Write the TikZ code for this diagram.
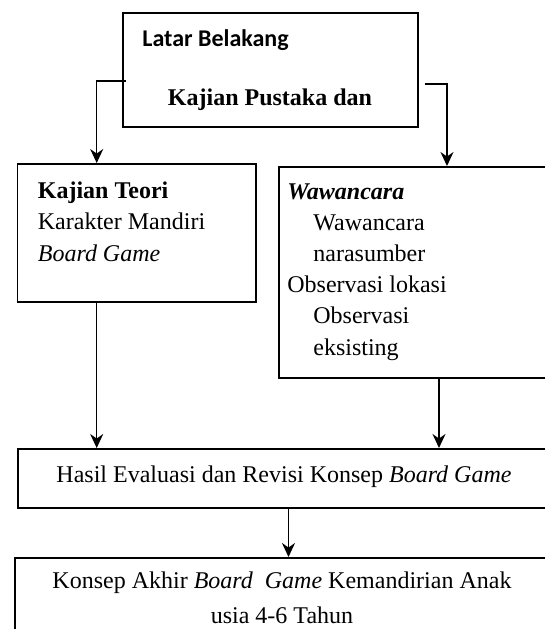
\documentclass[tikz,border=0pt]{standalone}
\usepackage{fontspec}
\setmainfont{Liberation Serif}
\newfontfamily\calfont{Carlito}
\usetikzlibrary{positioning,arrows.meta}
\tikzset{
  fb box/.style={draw, line width=0.8pt, inner sep=0pt, anchor=north west},
  fb txt/.style={font=\fontsize{12}{15.6}\selectfont, inner sep=0pt, align=left},
  fb arr/.style={-{Stealth[length=7pt,width=6.5pt]}, line width=0.7pt},
}
\begin{document}
\begin{tikzpicture}[x=0.5pt, y=-0.5pt]
  \clip (0,0) rectangle (545,629);
  % boxes
  \node[fb box, minimum width=147.5pt, minimum height=57pt] (latar) at (122,12) {};
  \node[fb box, minimum width=119.4pt, minimum height=69pt] (teori) at (16.7,163) {};
  \node[fb box, minimum width=137pt, minimum height=105.5pt] (wawan) at (278,166) {};
  \node[fb box, minimum width=267pt, minimum height=29.5pt] (hasil) at (17,448) {};
  \node[fb box, minimum width=268.75pt, minimum height=51.5pt] (akhir) at (14.5,557) {};
  % texts (base = last line)
  \node[fb txt, anchor=base west] (latartxt) at (142,46) {\calfont\bfseries Latar Belakang};
  \node[fb txt, anchor=base] (pustaka) at (270,105) {\bfseries Kajian Pustaka dan};
  \node[fb txt, anchor=base west] (teoritxt) at (37.5,261)
    {\textbf{Kajian Teori}\\Karakter Mandiri\\\textit{Board Game}};
  \node[fb txt, anchor=base west] (wawantxt) at (287,355)
    {\textbf{\textit{Wawancara}}\\\hspace*{13pt}Wawancara\\\hspace*{13pt}narasumber\\Observasi lokasi\\\hspace*{13pt}Observasi\\\hspace*{13pt}eksisting};
  \node[fb txt, anchor=base] (hasiltxt) at (284,482) {Hasil Evaluasi dan Revisi Konsep \textit{Board Game}};
  \node[fb txt, anchor=base, align=center] (akhirtxt) at (282,623)
    {Konsep Akhir \textit{Board\ \ Game} Kemandirian Anak\\[1.9pt]usia 4-6 Tahun};
  % connectors
  \draw[fb arr] ([xshift=2pt,yshift=-5.5pt]latar.west) -| ([xshift=40pt]teori.north west);
  \draw[fb arr] ([xshift=3pt,yshift=-7pt]latar.east) -| ([xshift=84.5pt]wawan.north west);
  \draw[fb arr] ([xshift=40pt]teori.south west) -- ([xshift=40pt]teori.south west |- hasil.north);
  \draw[fb arr] ([xshift=80.5pt]wawan.south west) -- ([xshift=80.5pt]wawan.south west |- hasil.north);
  \draw[fb arr] ([xshift=135.75pt]hasil.south west) -- ([xshift=135.75pt]hasil.south west |- akhir.north);
\end{tikzpicture}
\end{document}
